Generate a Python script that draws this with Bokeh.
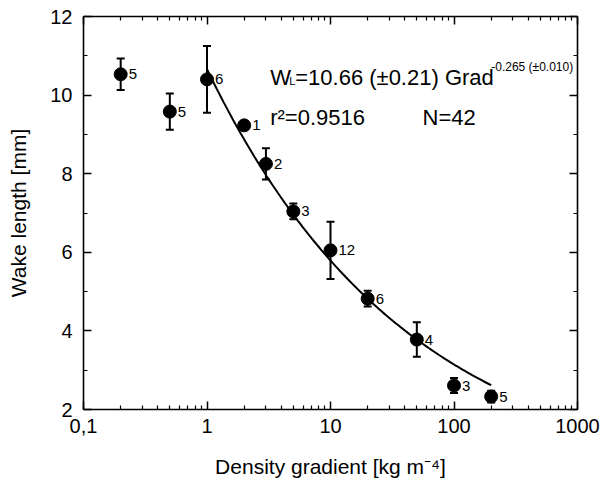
import numpy as np
from bokeh.plotting import figure
from bokeh.models import (ColumnDataSource, Whisker, TeeHead, FixedTicker, LinearAxis,
                          LogAxis, CustomJSTickFormatter, Label)
from bokeh.core.properties import value
from bokeh.embed import file_html
from bokeh.resources import INLINE

# ---- data ----
gradient = [0.2, 0.5, 1, 2, 3, 5, 10, 20, 50, 100, 200]
wake_len = [10.53, 9.58, 10.40, 9.23, 8.25, 7.04, 6.05, 4.82, 3.78, 2.61, 2.33]
wake_err = [0.40, 0.46, 0.85, 0.0, 0.40, 0.20, 0.73, 0.20, 0.44, 0.19, 0.15]
n_obs = ["5", "5", "6", "1", "2", "3", "12", "6", "4", "3", "5"]

fit_a = 10.66
fit_b = -0.265
fit_range = [1, 200]

x_major = [0.1, 1, 10, 100, 1000]
y_major = [2, 4, 6, 8, 10, 12]

FONT = "Liberation Sans"

p = figure(width=602, height=485, x_axis_type="log", x_range=(0.1, 1000), y_range=(2, 12),
           output_backend="svg", toolbar_location=None,
           min_border_left=83, min_border_right=25, min_border_top=16, min_border_bottom=76)
p.grid.visible = False
p.outline_line_color = None
p.background_fill_color = "white"
p.border_fill_color = "white"

x_minor = [m * 10.0 ** e for e in range(-1, 3) for m in range(2, 10)]
y_minor = [v + 1 for v in y_major[:-1]]
xt = FixedTicker(ticks=x_major, minor_ticks=x_minor)
yt = FixedTicker(ticks=y_major, minor_ticks=y_minor)

fmt = CustomJSTickFormatter(code="return (tick < 0.5) ? '0,1' : String(Math.round(tick));")
blank = CustomJSTickFormatter(code="return '';")


def style_axis(ax, labels=True):
    ax.axis_line_width = 1.6
    ax.axis_line_color = "black"
    ax.major_tick_in = 8
    ax.major_tick_out = 0
    ax.minor_tick_in = 4
    ax.minor_tick_out = 0
    ax.major_tick_line_width = 1.5
    ax.minor_tick_line_width = 1.2
    ax.major_tick_line_color = "black"
    ax.minor_tick_line_color = "black"
    if labels:
        ax.major_label_text_font = FONT
        ax.major_label_text_font_size = "20px"
        ax.major_label_text_color = "black"
        ax.axis_label_text_font = FONT
        ax.axis_label_text_font_size = "21px"
        ax.axis_label_text_font_style = "normal"
        ax.axis_label_text_color = "black"
    else:
        ax.formatter = blank
        ax.major_label_standoff = 0


xa = p.xaxis[0]
xa.ticker = xt
xa.formatter = fmt
xa.axis_label = "Density gradient [kg m⁻⁴]"
style_axis(xa)
xa.major_label_standoff = 9
xa.axis_label_standoff = 19

ya = p.yaxis[0]
ya.ticker = yt
ya.axis_label = "Wake length [mm]"
style_axis(ya)
ya.major_label_standoff = 11
ya.axis_label_standoff = 17

top = LogAxis(ticker=FixedTicker(ticks=x_major, minor_ticks=x_minor))
style_axis(top, labels=False)
p.add_layout(top, "above")
right = LinearAxis(ticker=FixedTicker(ticks=y_major, minor_ticks=y_minor))
style_axis(right, labels=False)
p.add_layout(right, "right")

# fit curve
cx = np.logspace(np.log10(fit_range[0]), np.log10(fit_range[1]), 120)
cy = fit_a * cx ** fit_b
p.line(cx, cy, line_color="black", line_width=2)

# error bars (only where there is a spread)
g = np.array(gradient)
w = np.array(wake_len)
e = np.array(wake_err)
mask = e > 0
err_src = ColumnDataSource(dict(x=g[mask], up=(w + e)[mask], lo=(w - e)[mask]))
wh = Whisker(base="x", upper="up", lower="lo", source=err_src, dimension="height",
             line_color="black", line_width=2,
             upper_head=TeeHead(size=8, line_width=2, line_color="black"),
             lower_head=TeeHead(size=8, line_width=2, line_color="black"))
p.add_layout(wh)

src = ColumnDataSource(dict(x=gradient, y=wake_len, n=n_obs))
p.scatter("x", "y", source=src, size=13, fill_color="black", line_color="black")
p.text("x", "y", text="n", source=src, x_offset=8, text_baseline="middle", text_align="left",
       text_font=value(FONT), text_font_size="15px", text_color="black")

# equation annotations
eq_x = 3.25
eq_y = 10.456
r_y = 9.43
lab_kw = dict(text_font=FONT, text_color="black", text_baseline="alphabetic")
p.add_layout(Label(x=eq_x, y=eq_y, text="W", text_font_size="22px", **lab_kw))
p.add_layout(Label(x=eq_x, y=eq_y, x_offset=19, y_offset=-4, text="L", text_font_size="11px", **lab_kw))
p.add_layout(Label(x=eq_x, y=eq_y, x_offset=25, text="=10.66 (±0.21) Grad", text_font_size="22px", **lab_kw))
p.add_layout(Label(x=eq_x, y=eq_y, x_offset=221, y_offset=10, text="-0.265 (±0.010)",
                   text_font_size="12px", **lab_kw))
p.add_layout(Label(x=eq_x, y=r_y, text="r²=0.9516", text_font_size="22px", **lab_kw))
p.add_layout(Label(x=55.6, y=r_y, text="N=42", text_font_size="22px", **lab_kw))

open("out.html", "w").write(file_html(p, INLINE))
